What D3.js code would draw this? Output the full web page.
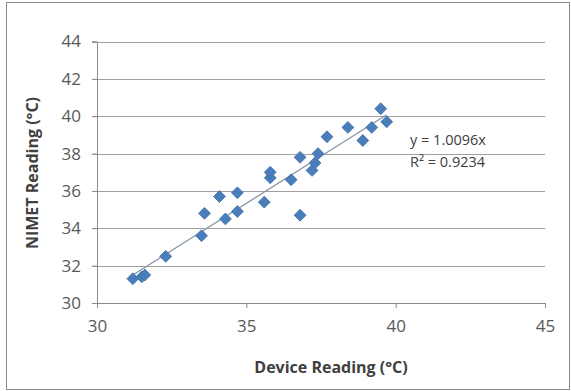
<!DOCTYPE html>
<html>
<head>
<meta charset="utf-8">
<script src="https://cdn.jsdelivr.net/npm/d3@7"></script>
<style>
  body { margin: 0; background: #fff; }
  svg { display: block; font-family: "Open Sans", sans-serif; }
</style>
</head>
<body>
<div id="chart"></div>
<script>
// device readings (x) and NIMET readings (y)
var deviceReading = [31.2, 31.5, 31.6, 32.3, 33.5, 33.6, 34.1, 34.3, 34.7, 34.7, 35.6, 35.8, 35.8,
                     36.5, 36.8, 36.8, 37.2, 37.3, 37.4, 37.7, 38.4, 38.9, 39.2, 39.5, 39.7]
var nimetReading  = [31.3, 31.4, 31.5, 32.5, 33.6, 34.8, 35.7, 34.5, 35.9, 34.9, 35.4, 36.7, 37.0,
                     36.6, 34.7, 37.8, 37.1, 37.5, 38.0, 38.9, 39.4, 38.7, 39.4, 40.4, 39.7]
var xTicks = [30, 35, 40, 45]
var yTicks = [30, 32, 34, 36, 38, 40, 42, 44]
var slope = 1.0096
var eqLabel = "y = 1.0096x"
var r2Label = "R² = 0.9234"

var width = 571, height = 391
var margin = { top: 41.5, right: 26, bottom: 88, left: 97 }

var svg = d3.select('#chart').append('svg')
    .attr('width', width)
    .attr('height', height)

svg.append('rect')
    .attr('x', 6.5).attr('y', 2.5)
    .attr('width', 563).attr('height', 387)
    .attr('fill', '#fff')
    .attr('stroke', '#8a8a8a')

var x = d3.scaleLinear().domain([30, 45]).range([margin.left, width - margin.right])
var y = d3.scaleLinear().domain([30, 44]).range([height - margin.bottom, margin.top])

// gridlines
svg.append('g').selectAll('line')
    .data(yTicks.slice(1))
    .enter().append('line')
    .attr('x1', margin.left - 5).attr('x2', x(45))
    .attr('y1', function(d){ return Math.round(y(d)) + 0.5 })
    .attr('y2', function(d){ return Math.round(y(d)) + 0.5 })
    .attr('stroke', '#a0a0a0')

var yAxis = d3.axisLeft(y).tickValues(yTicks).tickSize(5).tickPadding(11)
var xAxis = d3.axisBottom(x).tickValues(xTicks).tickSize(5).tickPadding(12)

var gy = svg.append('g')
    .attr('transform', 'translate(' + margin.left + ',0)')
    .call(yAxis)
var gx = svg.append('g')
    .attr('transform', 'translate(0,' + Math.round(y(30)) + ')')
    .call(xAxis)

svg.selectAll('.domain').attr('stroke', '#8a8a8a')
svg.selectAll('.tick line').attr('stroke', '#8a8a8a')
svg.selectAll('.tick text')
    .attr('fill', '#595959')
    .style('font-size', '17px')
    .style('font-family', '"Open Sans", sans-serif')

// axis titles
svg.append('text')
    .attr('x', 331).attr('y', 373)
    .attr('text-anchor', 'middle')
    .attr('fill', '#404040')
    .style('font-size', '16px')
    .style('font-weight', 'bold')
    .text('Device Reading (°C)')

svg.append('text')
    .attr('transform', 'translate(38,' + 173 + ') rotate(-90)')
    .attr('text-anchor', 'middle')
    .attr('fill', '#404040')
    .style('font-size', '16px')
    .style('font-weight', 'bold')
    .text('NIMET Reading (°C)')

// trendline through origin
var xExtent = d3.extent(deviceReading)
svg.append('line')
    .attr('x1', x(xExtent[0])).attr('y1', y(slope * xExtent[0]))
    .attr('x2', x(xExtent[1])).attr('y2', y(slope * xExtent[1]))
    .attr('stroke', '#8593a8')
    .attr('stroke-width', 1.2)

var points = deviceReading.map(function(d, i){ return [d, nimetReading[i]] })
var diamond = d3.symbol().type(d3.symbolSquare).size(70)

svg.append('g').selectAll('path')
    .data(points)
    .enter().append('path')
    .attr('d', diamond)
    .attr('transform', function(d){ return 'translate(' + x(d[0]) + ',' + y(d[1]) + ') rotate(45)' })
    .attr('fill', '#4a7ebb')
    .attr('stroke', '#3f6fa8')
    .attr('stroke-width', 0.8)

// equation labels
svg.append('text')
    .attr('x', 410).attr('y', 145)
    .attr('fill', '#404040')
    .style('font-size', '14.5px')
    .text(eqLabel)
svg.append('text')
    .attr('x', 410).attr('y', 167)
    .attr('fill', '#404040')
    .style('font-size', '14.5px')
    .text(r2Label)
</script>
</body>
</html>
